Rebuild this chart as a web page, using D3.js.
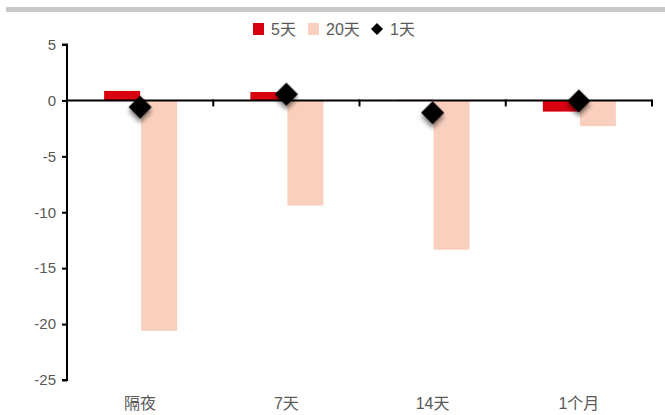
<!DOCTYPE html>
<html><head><meta charset="utf-8">
<script src="https://cdn.jsdelivr.net/npm/d3@7"></script>
<style>
body{margin:0;background:#fff;}
text{font-family:"Liberation Sans","Noto Sans CJK SC",sans-serif;}
</style></head>
<body><svg id="c" width="665" height="415"></svg>
<script>
const categories = ["隔夜", "7天", "14天", "1个月"];
const seriesNames = ["5天", "20天", "1天"];
const d5 = [0.85, 0.75, 0.05, -1.0];
const d20 = [-20.6, -9.4, -13.35, -2.3];
const d1 = [-0.6, 0.55, -1.1, -0.05];
const yTicks = [5, 0, -5, -10, -15, -20, -25];
const colors = {"5天": "#d9000f", "20天": "#f9d0bd", "1天": "#000000"};

const svg = d3.select("#c");
const defs = svg.append("defs");
const f = defs.append("filter").attr("id", "sh").attr("x", "-50%").attr("y", "-50%").attr("width", "200%").attr("height", "200%");
f.append("feDropShadow").attr("dx", 3).attr("dy", 3).attr("stdDeviation", 2.2).attr("flood-color", "#000").attr("flood-opacity", 0.45);

// top rule
svg.append("rect").attr("x", 6).attr("y", 7).attr("width", 659).attr("height", 5).attr("fill", "#c8c8c8");

const x = d3.scaleBand().domain(categories).range([67, 652]);
const y = d3.scaleLinear().domain([-25, 5]).range([380, 44.5]);
const barW = 36;
const fmt = v => String(v);   // plain hyphen for negatives

// y axis
const ya = svg.append("g").attr("transform", "translate(67,0)")
  .call(d3.axisLeft(y).tickValues(yTicks).tickSize(5).tickPadding(6).tickFormat(fmt));
ya.select(".domain").attr("stroke", "#000").attr("stroke-width", 2).attr("d", `M-5,${y(5)}H0V${y(-25)}H-5`);
ya.selectAll(".tick line").attr("stroke", "#000").attr("stroke-width", 2);
ya.selectAll(".tick text").attr("fill", "#595959").style("font-size", "15px");

// bars
const g = svg.append("g");
g.selectAll(".b5").data(categories).join("rect")
  .attr("x", d => x(d) + x.bandwidth()/2 - barW)
  .attr("y", (d,i) => y(Math.max(0, d5[i])))
  .attr("width", barW)
  .attr("height", (d,i) => Math.abs(y(d5[i]) - y(0)))
  .attr("fill", colors["5天"]);
g.selectAll(".b20").data(categories).join("rect")
  .attr("x", d => x(d) + x.bandwidth()/2 + 1)
  .attr("y", (d,i) => y(Math.max(0, d20[i])))
  .attr("width", barW)
  .attr("height", (d,i) => Math.abs(y(d20[i]) - y(0)))
  .attr("fill", colors["20天"]);

// x axis at zero
const xa = svg.append("g").attr("transform", `translate(0,${y(0)})`)
  .call(d3.axisBottom(x).tickSize(0).tickFormat(""));
xa.select(".domain").attr("stroke", "#000").attr("stroke-width", 2).attr("d", `M67,0H652`);
xa.selectAll(".tick").remove();
const bounds = categories.slice(1).map(d => x(d)).concat([x.range()[1]]);
svg.append("g").selectAll("line").data(bounds).join("line")
  .attr("x1", d => d).attr("x2", d => d)
  .attr("y1", y(0) - 1).attr("y2", y(0) + 6)
  .attr("stroke", "#000").attr("stroke-width", 2);

// category labels
svg.append("g").selectAll("text").data(categories).join("text")
  .attr("x", d => x(d) + x.bandwidth()/2).attr("y", 409)
  .attr("text-anchor", "middle").attr("fill", "#595959").style("font-size", "16px")
  .text(d => d);

// diamonds
svg.append("g").selectAll("path").data(categories).join("path")
  .attr("d", d3.symbol().type(d3.symbolSquare).size(270))
  .attr("transform", (d,i) => `translate(${x(d) + x.bandwidth()/2},${y(d1[i])}) rotate(45)`)
  .attr("fill", "#000").attr("filter", "url(#sh)");

// legend
const lg = svg.append("g").attr("transform", "translate(0,29)");
lg.append("rect").attr("x", 253).attr("y", -6).attr("width", 11).attr("height", 12).attr("fill", colors["5天"]);
lg.append("text").attr("x", 271).attr("y", 6).attr("fill", "#595959").style("font-size", "16px").text(seriesNames[0]);
lg.append("rect").attr("x", 308).attr("y", -6).attr("width", 11).attr("height", 12).attr("fill", colors["20天"]);
lg.append("text").attr("x", 326).attr("y", 6).attr("fill", "#595959").style("font-size", "16px").text(seriesNames[1]);
lg.append("path").attr("transform", "translate(377,0) rotate(45)").attr("d", d3.symbol().type(d3.symbolSquare).size(72)).attr("fill", "#000");
lg.append("text").attr("x", 390).attr("y", 6).attr("fill", "#595959").style("font-size", "16px").text(seriesNames[2]);
</script></body></html>
